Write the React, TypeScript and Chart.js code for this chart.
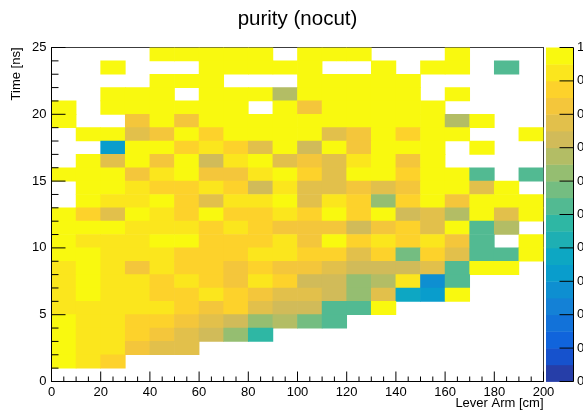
import React, { useEffect, useRef } from "react";
import { Chart, registerables } from "chart.js";

Chart.register(...registerables);

const chartTitle = "purity (nocut)";
const xAxisTitle = "Lever Arm [cm]";
const yAxisTitle = "Time [ns]";

// lower edges of the lever-arm bins [cm]
const leverArmBins = [0, 10, 20, 30, 40, 50, 60, 70, 80, 90, 100, 110, 120, 130, 140, 150, 160, 170, 180, 190];
const leverArmBinWidth = 10;
// lower edges of the time bins [ns]
const timeBins = [0, 1, 2, 3, 4, 5, 6, 7, 8, 9, 10, 11, 12, 13, 14, 15, 16, 17, 18, 19, 20, 21, 22, 23, 24];
const timeBinWidth = 1;

const xRange = [0, 200];
const yRange = [0, 25];
const zRange = [0, 1];

const _ = null;
// purity per cell, one row per time bin (t = 0 ns first), one entry per lever-arm bin
const purityByTimeBin: (number | null)[][] = [
  [_, _, _, _, _, _, _, _, _, _, _, _, _, _, _, _, _, _, _, _],
  [.97, .92, .87, _, _, _, _, _, _, _, _, _, _, _, _, _, _, _, _, _],
  [.97, .92, .92, .82, .77, .77, _, _, _, _, _, _, _, _, _, _, _, _, _, _],
  [.97, .92, .92, .87, .82, .77, .72, .62, .47, _, _, _, _, _, _, _, _, _, _, _],
  [.97, .92, .92, .87, .87, .82, .77, .72, .62, .67, .57, .52, _, _, _, _, _, _, _, _],
  [.92, .92, .92, .92, .92, .87, .82, .87, .77, .72, .72, .52, .52, .97, _, _, _, _, _, _],
  [.92, .97, .92, .92, .87, .87, .92, .87, .82, .77, .77, .72, .62, .77, .37, .32, .97, _, _, _],
  [.92, .97, .92, .92, .87, .92, .87, .82, .92, .87, .72, .72, .62, .67, .92, .27, .52, _, _, _],
  [.92, .97, .92, .82, .92, .87, .87, .82, .87, .82, .82, .77, .72, .72, .72, .77, .52, .97, .97, _],
  [.97, .97, .92, .92, .92, .87, .87, .87, .92, .92, .87, .87, .77, .87, .57, .87, .77, .52, .52, .97],
  [.97, .92, .92, .92, .97, .97, .87, .87, .87, .92, .82, .97, .87, .92, .87, .92, .82, .52, _, .97],
  [.97, .97, .97, .92, .92, .92, .87, .92, .87, .82, .82, .82, .72, .82, .87, .77, .97, .52, .67, _],
  [.97, .87, .77, .97, .92, .87, .97, .87, .87, .92, .87, .97, .87, .97, .72, .77, .67, .97, .77, .97],
  [_, .97, .92, .92, .97, .87, .77, .92, .92, .97, .77, .92, .87, .62, .87, .97, .82, .97, .97, .97],
  [_, .97, .97, .92, .87, .87, .92, .87, .72, .92, .77, .77, .82, .77, .82, .97, .97, .77, .97, _],
  [.97, .97, .97, .82, .92, .97, .82, .82, .92, .97, .87, .77, .97, .97, .87, .97, .97, .52, _, .52],
  [_, .97, .77, .97, .82, .97, .72, .92, .97, .77, .82, .77, .92, .97, .82, .97, _, _, _, _],
  [_, _, .32, .97, .97, .87, .92, .87, .77, .97, .72, .97, .82, .97, .97, .97, _, .97, _, _],
  [_, .97, .97, .77, .82, .97, .87, .97, .97, .97, .97, .77, .82, .97, .87, .97, .97, _, _, .97],
  [.97, _, _, .82, .97, .82, .97, .97, .97, .97, .97, .97, .97, .97, .97, .97, .67, .97, _, _],
  [.97, _, .97, .97, .97, .97, .97, .97, _, .97, .82, .97, .97, .97, .97, .97, _, _, _, _],
  [_, _, .97, .97, .97, _, .97, .97, .97, .67, .97, .97, .97, .97, .97, _, .97, _, _, _],
  [_, _, _, _, .97, .97, .97, _, _, _, .97, .97, .97, .97, .97, _, _, _, _, _],
  [_, _, .97, _, _, _, .97, .97, .97, .97, .97, _, _, .97, _, .97, .97, _, .52, _],
  [_, _, _, _, .97, .97, .97, .97, .97, _, .97, .97, .97, _, _, _, .97, _, _, _],
];

// ---- ROOT "kBird" palette, 20 contour levels ----
const birdStops = [0.0, 0.125, 0.25, 0.375, 0.5, 0.625, 0.75, 0.875, 1.0];
const birdRed = [0.2082, 0.0592, 0.078, 0.0232, 0.1802, 0.5301, 0.8186, 0.9956, 0.9764];
const birdGreen = [0.1664, 0.3599, 0.5041, 0.6419, 0.7178, 0.7492, 0.7328, 0.7862, 0.9832];
const birdBlue = [0.5293, 0.8684, 0.8385, 0.7914, 0.6425, 0.4662, 0.3499, 0.1968, 0.0539];
const N_COLORS = 255;
const N_LEVELS = 20;

const palette: string[] = (() => {
  const out: string[] = [];
  for (let g = 1; g < birdStops.length; g++) {
    const n = Math.floor(N_COLORS * birdStops[g]) - Math.floor(N_COLORS * birdStops[g - 1]);
    for (let c = 0; c < n; c++) {
      const r = birdRed[g - 1] + (c * (birdRed[g] - birdRed[g - 1])) / n;
      const gr = birdGreen[g - 1] + (c * (birdGreen[g] - birdGreen[g - 1])) / n;
      const b = birdBlue[g - 1] + (c * (birdBlue[g] - birdBlue[g - 1])) / n;
      out.push(`rgb(${Math.round(r * 255)},${Math.round(gr * 255)},${Math.round(b * 255)})`);
    }
  }
  return out;
})();

function levelColor(level: number): string {
  const idx = Math.floor(((level + 0.99) * N_COLORS) / N_LEVELS);
  return palette[Math.min(palette.length - 1, Math.max(0, idx))];
}
function purityColor(v: number): string {
  const lvl = Math.min(N_LEVELS - 1, Math.max(0, Math.floor(0.01 + ((v - zRange[0]) * N_LEVELS) / (zRange[1] - zRange[0]))));
  return levelColor(lvl);
}

const FONT = "'Liberation Sans', Arial, Helvetica, sans-serif";

const rootDecor = {
  id: "rootDecor",
  beforeDatasetsDraw(chart: any) {
    const { ctx, chartArea: a } = chart;
    ctx.save();
    ctx.strokeStyle = "#3c3c3c";
    ctx.lineWidth = 1;
    ctx.strokeRect(a.left, a.top, a.right - a.left, a.bottom - a.top);
    ctx.restore();
  },
  afterDatasetsDraw(chart: any) {
    const { ctx, chartArea: a, scales } = chart;
    const xs = scales.x;
    const ys = scales.y;
    const zs = scales.z;
    ctx.save();
    ctx.strokeStyle = "#000";
    ctx.lineWidth = 1;
    ctx.beginPath();
    // y axis with inward ticks
    ctx.moveTo(a.left, a.top);
    ctx.lineTo(a.left, a.bottom);
    for (let v = yRange[0]; v <= yRange[1]; v += 1) {
      const y = ys.getPixelForValue(v);
      const len = v % 5 === 0 ? 14 : 7;
      ctx.moveTo(a.left, y);
      ctx.lineTo(a.left + len, y);
    }
    // x axis with inward ticks
    ctx.moveTo(a.left, a.bottom);
    ctx.lineTo(a.right, a.bottom);
    for (let v = xRange[0]; v <= xRange[1]; v += 5) {
      const x = xs.getPixelForValue(v);
      const len = v % 20 === 0 ? 10 : 5;
      ctx.moveTo(x, a.bottom);
      ctx.lineTo(x, a.bottom - len);
    }
    ctx.stroke();

    // colour bar
    const bx0 = a.right + 2.5;
    const bx1 = a.right + 30;
    for (let l = 0; l < N_LEVELS; l++) {
      const v0 = zRange[0] + ((zRange[1] - zRange[0]) * l) / N_LEVELS;
      const v1 = zRange[0] + ((zRange[1] - zRange[0]) * (l + 1)) / N_LEVELS;
      const y0 = zs.getPixelForValue(v0);
      const y1 = zs.getPixelForValue(v1);
      ctx.fillStyle = levelColor(l);
      ctx.fillRect(bx0, y1, bx1 - bx0, y0 - y1 + 0.4);
    }
    ctx.beginPath();
    ctx.moveTo(bx1, zs.getPixelForValue(zRange[0]));
    ctx.lineTo(bx1, zs.getPixelForValue(zRange[1]));
    for (let k = 0; k <= 10; k++) {
      const y = zs.getPixelForValue(zRange[0] + ((zRange[1] - zRange[0]) * k) / 10);
      ctx.moveTo(bx1, y);
      ctx.lineTo(bx1 - 14, y);
    }
    ctx.stroke();

    // title
    ctx.fillStyle = "#000";
    ctx.font = `20.5px ${FONT}`;
    ctx.textAlign = "center";
    ctx.textBaseline = "alphabetic";
    ctx.fillText(chartTitle, 297.5, 25);
    ctx.restore();
  },
};

export default function App() {
  const canvasRef = useRef<HTMLCanvasElement | null>(null);

  useEffect(() => {
    document.body.style.margin = "0";
    const canvas = canvasRef.current;
    if (!canvas) return;

    const datasets = timeBins.map((t, j) => ({
      type: "bar" as const,
      label: `t=${t}`,
      data: leverArmBins
        .map((x, i) => {
          const v = purityByTimeBin[j][i];
          return v == null ? null : { x: x + leverArmBinWidth / 2, y: [t, t + timeBinWidth], v };
        })
        .filter((d) => d !== null),
      backgroundColor: (c: any) => (c.raw && c.raw.v != null ? purityColor(c.raw.v) : "rgba(0,0,0,0)"),
      borderWidth: 0,
      grouped: false,
      barPercentage: 1,
      categoryPercentage: 1,
      xAxisID: "x",
      yAxisID: "y",
    }));

    const chart = new Chart(canvas, {
      type: "bar",
      data: { datasets: datasets as any },
      plugins: [rootDecor],
      options: {
        responsive: false,
        animation: false,
        devicePixelRatio: 1,
        events: [],
        layout: { padding: { top: 47.5, left: 0, right: 0, bottom: 0 } },
        plugins: { legend: { display: false }, tooltip: { enabled: false }, title: { display: false } },
        scales: {
          x: {
            type: "linear",
            position: "bottom",
            min: xRange[0],
            max: xRange[1],
            offset: false,
            grid: { display: false, drawTicks: false, offset: false },
            border: { display: false },
            ticks: { stepSize: 20, padding: 3, color: "#000", font: { family: FONT, size: 13 }, maxRotation: 0 },
            title: {
              display: true,
              text: xAxisTitle,
              align: "end",
              color: "#000",
              font: { family: FONT, size: 13 },
              padding: { top: 0, bottom: 0 },
            },
            afterFit: (s: any) => {
              s.height = 29.5;
            },
          },
          y: {
            type: "linear",
            position: "left",
            min: yRange[0],
            max: yRange[1],
            grid: { display: false, drawTicks: false },
            border: { display: false },
            ticks: { stepSize: 5, padding: 5, color: "#000", font: { family: FONT, size: 13 } },
            title: {
              display: true,
              text: yAxisTitle,
              align: "end",
              color: "#000",
              font: { family: FONT, size: 13 },
              padding: { top: 9, bottom: 0 },
            },
            afterFit: (s: any) => {
              s.width = 51.5;
            },
          },
          z: {
            type: "linear",
            axis: "y",
            position: "right",
            min: zRange[0],
            max: zRange[1],
            grid: { display: false, drawTicks: true, tickLength: 33.5 },
            border: { display: false },
            ticks: { stepSize: 0.1, padding: 0, color: "#000", font: { family: FONT, size: 13 } },
            afterFit: (s: any) => {
              s.width = 39.5;
            },
          },
        },
      } as any,
    });

    return () => chart.destroy();
  }, []);

  return <canvas ref={canvasRef} width={583} height={411} style={{ display: "block" }} />;
}
